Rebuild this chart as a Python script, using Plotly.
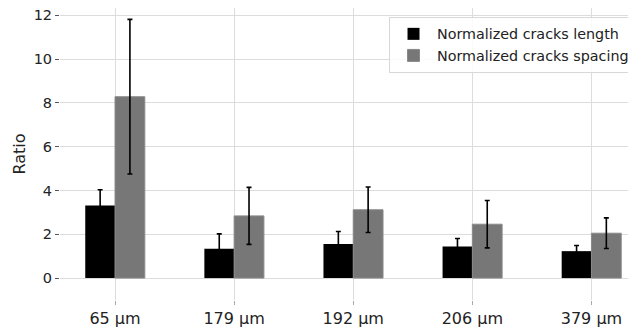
import plotly.graph_objects as go

categories = ["65 μm", "179 μm", "192 μm", "206 μm", "379 μm"]
length_vals = [3.31, 1.34, 1.56, 1.44, 1.23]
length_err = [0.72, 0.68, 0.57, 0.37, 0.26]
spacing_vals = [8.28, 2.84, 3.12, 2.46, 2.05]
spacing_err = [3.53, 1.30, 1.04, 1.08, 0.70]
y_ticks = [0, 2, 4, 6, 8, 10, 12]

font = "DejaVu Sans"
fig = go.Figure()
fig.add_trace(go.Bar(
    x=categories, y=length_vals, name="Normalized cracks length",
    marker=dict(color="#000000", line=dict(width=0)),
    error_y=dict(type="data", array=length_err, color="#000000", thickness=1.6, width=2.5),
))
fig.add_trace(go.Bar(
    x=categories, y=spacing_vals, name="Normalized cracks spacing",
    marker=dict(color="#777777", line=dict(color="#8a8a8a", width=1)),
    error_y=dict(type="data", array=spacing_err, color="#000000", thickness=1.6, width=2.5),
))
fig.update_layout(
    width=628, height=321,
    margin=dict(l=52, r=0, t=0, b=29, autoexpand=False),
    paper_bgcolor="white", plot_bgcolor="white",
    barmode="group", bargap=0.5, bargroupgap=0,
    font=dict(family=font, color="#222222"),
    legend=dict(
        x=0.5712, y=0.969, xanchor="left", yanchor="top",
        bgcolor="rgba(255,255,255,0.85)", bordercolor="#d8d8d8", borderwidth=1,
        font=dict(size=14.3, family=font, color="#222222"),
        tracegroupgap=0, itemwidth=37,
    ),
    xaxis=dict(
        range=[-0.462, 4.374], showgrid=True, gridcolor="#dcdcdc", gridwidth=1,
        ticks="outside", ticklen=4, tickcolor="#aaaaaa", showline=False, zeroline=False,
        tickfont=dict(size=16, family=font, color="#222222"), automargin=False,
    ),
    yaxis=dict(
        range=[-1.0, 12.33], tickvals=y_ticks, showgrid=True, gridcolor="#dcdcdc", gridwidth=1,
        ticks="outside", ticklen=4, tickcolor="#555555", showline=False, zeroline=False,
        tickfont=dict(size=14.5, family=font, color="#222222"), automargin=False,
        ticklabeloverflow="allow",
        title=dict(text="Ratio", font=dict(size=16, family=font, color="#222222"), standoff=4),
    ),
)
fig.write_html("out.html")
